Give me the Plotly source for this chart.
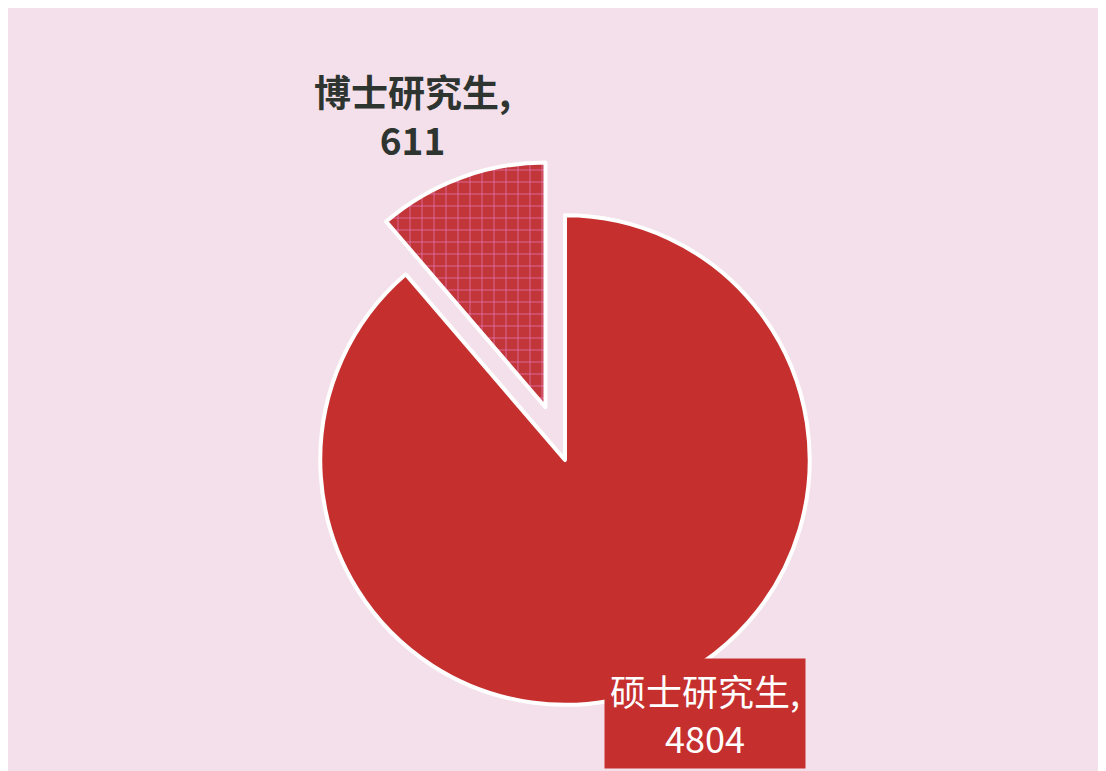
import plotly.graph_objects as go

categories = ["硕士研究生", "博士研究生"]
values = [4804, 611]
pulls = [0, 0.23]

fig = go.Figure()
fig.add_trace(go.Pie(
    labels=categories,
    values=values,
    sort=False,
    direction="clockwise",
    rotation=0,
    pull=pulls,
    textinfo="none",
    hoverinfo="label+value",
    showlegend=False,
    domain=dict(x=[0.2314, 0.7758], y=[0.0233, 0.8041]),
    marker=dict(
        colors=["#c5302f", "#c23539"],
        line=dict(color="#ffffff", width=4),
        pattern=dict(shape=["", "+"], fgcolor="#e27ab8", bgcolor="#c23539",
                     size=12, solidity=0.12),
    ),
))

fig.add_annotation(
    x=0.3653, y=0.861, xref="paper", yref="paper",
    xanchor="center", yanchor="middle",
    text=f"<b>{categories[1]},<br>{values[1]}</b>",
    showarrow=False,
    font=dict(family="Noto Sans CJK SC", size=37, color="#2e3430"),
    align="center",
)
fig.add_annotation(
    x=0.630, y=0.0856, xref="paper", yref="paper",
    xanchor="center", yanchor="middle",
    text=f"{categories[0]},<br>{values[0]}",
    showarrow=False,
    font=dict(family="Noto Sans CJK SC", size=36, color="#ffffff"),
    align="center",
    bgcolor="#c5302f",
    borderpad=5,
)

fig.update_layout(
    width=1106, height=771,
    margin=dict(l=0, r=0, t=0, b=0),
    paper_bgcolor="#f4e0ea",
)
fig.write_html("out.html")
